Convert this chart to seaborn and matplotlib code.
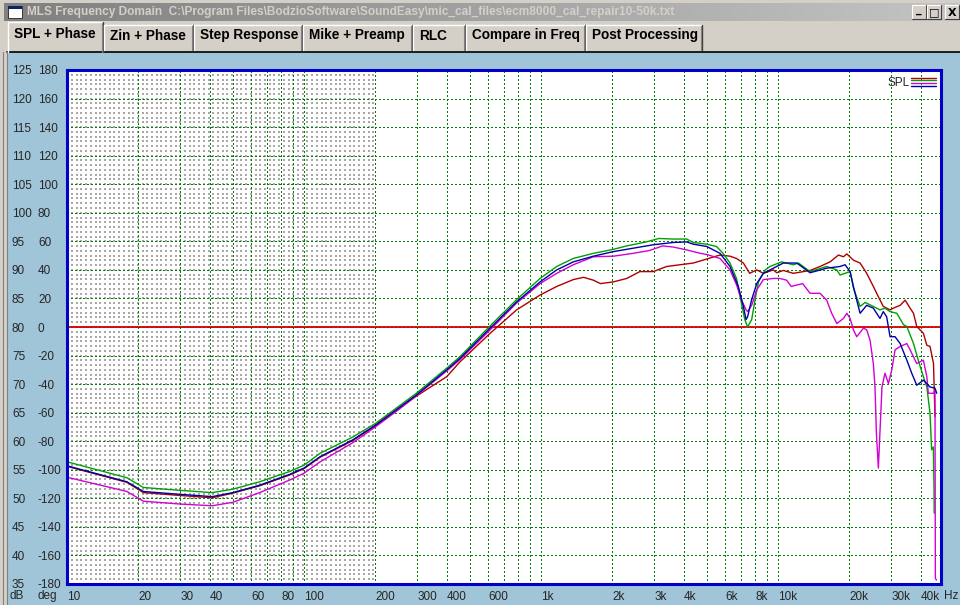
import numpy as np
import pandas as pd
import matplotlib
matplotlib.use('Agg')
import matplotlib.pyplot as plt
from matplotlib.patches import Rectangle
from matplotlib.lines import Line2D
from matplotlib.colors import LinearSegmentedColormap
import seaborn as sns

# measured SPL traces (Hz, dB)
red_freq = [10, 17.9, 21, 30, 41, 50, 65, 87, 100, 117, 160, 200, 298, 400, 455, 610, 789, 991,
            1165, 1368, 1510, 1663, 1780, 2020, 2300, 2610, 2977, 3390, 3860, 4390, 5000, 5690,
            6270, 6680, 7140, 7590, 8130, 8670, 9560, 9870, 10530, 11600, 13650, 15040, 16570,
            17990, 18880, 19510, 20800, 22190, 23660, 25240, 26500, 27800, 29690, 30660, 32750,
            34380, 36070, 37280, 38480, 41040, 42440, 43770, 45280, 45930]
red_spl = [55.6, 52.8, 51.0, 50.5, 50.1, 50.9, 52.2, 54.1, 55.2, 57.2, 60.1, 62.7, 67.9, 71.3, 73.9,
           78.9, 83.0, 85.6, 87.1, 88.3, 88.7, 88.2, 87.6, 87.9, 88.5, 89.7, 89.7, 90.6, 90.9, 91.2,
           91.9, 92.6, 92.4, 92.0, 91.2, 89.4, 90.0, 89.4, 90.0, 89.5, 89.9, 89.4, 89.9, 90.6, 91.4,
           92.6, 92.3, 92.8, 91.7, 91.2, 89.4, 87.1, 85.3, 83.6, 83.0, 83.3, 83.8, 84.7, 83.3, 82.4,
           80.1, 78.9, 76.8, 76.6, 73.6, 64.3]

green_freq = [10, 17.9, 21, 30, 41, 50, 65, 87, 100, 117, 160, 200, 298, 400, 455, 610, 789, 991,
              1165, 1368, 1663, 2020, 2300, 2780, 3140, 3614, 4115, 4390, 5000, 5500, 5860, 6270,
              6680, 7000, 7240, 7440, 7740, 8000, 8270, 8830, 9250, 10350, 11600, 12200, 13650,
              16040, 17700, 18270, 20140, 20800, 22190, 23300, 25240, 26920, 28260, 29690, 31700,
              33840, 34940, 37280, 39170, 41040, 42440, 43770, 44460, 45200, 45500, 45600]
green_spl = [56.4, 53.6, 51.9, 51.4, 51.0, 51.6, 52.9, 54.7, 55.8, 57.9, 60.7, 63.1, 68.4, 72.8,
             74.8, 80.2, 84.8, 88.5, 90.6, 92.0, 92.9, 93.6, 94.2, 94.9, 95.5, 95.4, 95.4, 94.8,
             94.5, 94.1, 92.9, 91.2, 88.5, 84.2, 81.3, 80.0, 81.3, 84.8, 87.9, 90.0, 90.6, 91.4,
             90.9, 91.2, 89.7, 90.6, 90.0, 89.1, 89.7, 86.8, 83.6, 84.3, 83.6, 83.0, 83.3, 82.7,
             82.4, 80.4, 80.1, 77.1, 74.0, 71.3, 69.5, 64.9, 58.5, 59.0, 52.0, 47.4]

magenta_freq = [10, 17.9, 21, 30, 41, 50, 65, 87, 100, 117, 160, 200, 250, 298, 400, 455, 610, 789,
                991, 1165, 1368, 1663, 2020, 2450, 2870, 3260, 3614, 4115, 4700, 5000, 5690, 6270,
                6680, 7000, 7330, 7440, 7740, 8130, 8670, 9560, 10180, 10860, 11370, 12700, 13650,
                15040, 16040, 16840, 17700, 18880, 19510, 20140, 20800, 21480, 22930, 23660, 24440,
                25240, 25650, 26000, 26500, 26900, 27450, 28260, 29220, 30190, 31170, 32750, 34940,
                36070, 38480, 39770, 41040, 42440, 43050, 45280, 45930, 46100, 46600]
magenta_spl = [53.7, 51.2, 49.5, 49.0, 48.7, 49.3, 51.0, 53.2, 54.4, 56.4, 59.7, 62.5, 65.5, 68.0,
               72.3, 74.3, 79.5, 84.2, 87.6, 89.4, 90.9, 92.3, 92.4, 92.9, 93.4, 94.2, 94.0, 93.5,
               92.9, 92.7, 92.0, 90.0, 87.4, 84.8, 83.0, 82.7, 83.8, 86.5, 88.3, 88.5, 88.5, 88.2,
               87.1, 87.6, 85.9, 85.9, 84.7, 82.4, 80.6, 81.5, 82.4, 81.5, 79.5, 78.3, 79.8, 79.5,
               77.7, 73.6, 69.5, 61.4, 55.3, 61.4, 69.5, 71.9, 70.1, 72.5, 76.0, 76.6, 77.1, 76.0,
               73.6, 73.9, 74.2, 71.3, 68.4, 68.4, 69.0, 36.0, 35.7]

blue_freq = [10, 17.9, 21, 30, 41, 50, 65, 87, 100, 117, 160, 200, 298, 400, 455, 610, 789, 991,
             1165, 1368, 1663, 2020, 2450, 2977, 3614, 4115, 4390, 5000, 5690, 6270, 6800, 7140,
             7330, 7440, 7740, 8130, 8670, 9870, 10530, 12000, 13650, 16040, 18270, 19180, 20140,
             20800, 21480, 22190, 23660, 25240, 26920, 27800, 28720, 29690, 31170, 32750, 34940,
             36650, 38480, 41040, 43770, 45930, 46700]
blue_spl = [55.7, 52.9, 51.2, 50.7, 50.3, 51.0, 52.3, 54.2, 55.3, 57.3, 60.2, 62.8, 68.1, 72.5,
            74.5, 79.8, 84.4, 87.9, 90.0, 91.4, 92.4, 93.2, 93.8, 94.4, 94.8, 94.9, 94.5, 94.1,
            92.9, 90.6, 87.1, 83.6, 81.3, 81.8, 84.8, 87.6, 89.4, 90.6, 91.2, 91.2, 89.5, 90.3,
            90.6, 90.9, 89.7, 87.1, 84.7, 82.4, 83.8, 83.3, 81.5, 82.7, 81.8, 78.3, 78.3, 77.1,
            74.2, 71.9, 69.8, 70.7, 69.5, 69.3, 68.4]

trace_names = ['red', 'green', 'magenta', 'blue']
trace_colors = {'red': '#b00000', 'green': '#00a000', 'magenta': '#d400d4', 'blue': '#0000a8'}
ref_db = 80

db_ticks = list(range(35, 130, 5))
deg_ticks = list(range(-180, 200, 20))
freq_grid = [m * 10 ** e for e in range(1, 5) for m in range(1, 10) if m * 10 ** e <= 40000]
freq_labels = {10: '10', 20: '20', 30: '30', 40: '40', 60: '60', 80: '80', 100: '100',
               200: '200', 300: '300', 400: '400', 600: '600', 1000: '1k', 2000: '2k',
               3000: '3k', 4000: '4k', 6000: '6k', 8000: '8k', 10000: '10k', 20000: '20k',
               30000: '30k', 40000: '40k'}

tabs = ['SPL + Phase', 'Zin + Phase', 'Step Response', 'Mike + Preamp', 'RLC',
        'Compare in Freq', 'Post Processing']
tab_edges = [8, 104, 194, 303, 413, 466, 586, 703]
title = ('MLS Frequency Domain  C:\\Program Files\\BodzioSoftware\\SoundEasy\\'
         'mic_cal_files\\ecm8000_cal_repair10-50k.txt')

sns.set_style('white')
plt.rcParams['font.family'] = ['Liberation Sans', 'DejaVu Sans']

W, H = 960, 605
fig = plt.figure(figsize=(W / 100, H / 100), dpi=100, facecolor='#d4d0c8')

# window chrome in pixel coordinates
px = fig.add_axes([0, 0, 1, 1])
px.axis('off')
grad = LinearSegmentedColormap.from_list('cap', ['#808080', '#c4c4c4'])
px.imshow(np.linspace(0, 1, 256)[None, :], cmap=grad, extent=(4, 960, 21, 3), aspect='auto')
px.set_xlim(0, W)
px.set_ylim(H, 0)
px.add_patch(Rectangle((8, 6), 14, 12, fc='white', ec='#202020', lw=0.6))
px.add_patch(Rectangle((8, 6), 14, 3, fc='#0a246a', ec='none'))
px.text(27, 12.5, title, color='#d4d0c8', fontsize=8.6, fontweight='bold', va='center', ha='left')
for bx, glyph in zip([912, 927, 945], ['_', '□', 'X']):
    px.add_patch(Rectangle((bx, 5), 14, 14, fc='#d4d0c8', ec='none'))
    px.plot([bx, bx, bx + 14], [19, 5, 5], color='white', lw=0.8)
    px.plot([bx, bx + 14, bx + 14], [19, 19, 5], color='#404040', lw=0.8)
    px.text(bx + 7, 12.5 if glyph != '_' else 10, glyph, fontsize=8, fontweight='bold',
            ha='center', va='center', color='black', family='DejaVu Sans')

px.add_patch(Rectangle((7, 52), W - 7, H - 52, fc='#a0c4d8', ec='none'))
px.plot([7, W], [52, 52], color='black', lw=1.2)
px.plot([7, 7], [52, H], color='#808080', lw=0.8)
px.plot([3, 3], [52, H], color='#808080', lw=0.8)

for i, name in enumerate(tabs):
    x0, x1 = tab_edges[i], tab_edges[i + 1] - 1
    top = 22 if i == 0 else 25
    bot = 52 if i == 0 else 50
    px.plot([x0, x0, x1], [bot, top, top], color='white', lw=1.0)
    px.plot([x1, x1], [top, bot], color='#404040', lw=1.0)
    px.plot([x1 - 1, x1 - 1], [top + 1, bot], color='#808080', lw=0.8)
    px.text(x0 + 6, 34 if i == 0 else 35.5, name, fontsize=9.8, fontweight='bold',
            ha='left', va='center', color='black')

px.text(10, 596, 'dB', fontsize=8.5, va='center', ha='left')
px.text(38, 596, 'deg', fontsize=8.5, va='center', ha='left')
px.text(944, 596, 'Hz', fontsize=8.5, va='center', ha='left')

# plot area
left, right, top, bottom = 67, 941, 70, 584
ax = fig.add_axes([left / W, 1 - bottom / H, (right - left) / W, (bottom - top) / H])
ax.set_facecolor('white')

frames = []
for name, f, s in [('red', red_freq, red_spl), ('green', green_freq, green_spl),
                   ('magenta', magenta_freq, magenta_spl), ('blue', blue_freq, blue_spl)]:
    frames.append(pd.DataFrame({'freq': f, 'spl': s, 'trace': name}))
df = pd.concat(frames, ignore_index=True)

ax.set_xscale('log')
ax.set_xlim(10, 48700)
ax.set_ylim(35, 125)

# stipple texture of the low-frequency zone
sx, sy = np.meshgrid(np.geomspace(10.5, 196, 65), np.arange(35 + 5 / 6, 125, 5 / 6))
ax.scatter(sx.ravel(), sy.ravel(), s=1.0, marker='s', color='#a8a8a8', linewidths=0,
           antialiased=False, zorder=0.3)

ax.axhline(ref_db, color='#d80000', lw=1.3, zorder=1.5)
sns.lineplot(data=df, x='freq', y='spl', hue='trace', hue_order=trace_names, palette=trace_colors,
             estimator=None, sort=False, legend=False, linewidth=1.0, ax=ax, zorder=2)
ax.set_xlim(10, 48700)
ax.set_ylim(35, 125)
ax.set_xlabel('')
ax.set_ylabel('')

ax.set_axisbelow(True)
ax.set_xticks(freq_grid, [freq_labels.get(v, '') for v in freq_grid], ha='left')
ax.xaxis.set_minor_locator(matplotlib.ticker.NullLocator())
ax.set_yticks(db_ticks, [str(v) for v in db_ticks], ha='left')
ax.grid(True, color='#008000', lw=0.75, linestyle=(0, (1, 2)), antialiased=False)
ax.tick_params(axis='x', length=0, pad=5, labelsize=8.5)
ax.tick_params(axis='y', length=0, pad=39.6, labelsize=8.5)
for sp in ax.spines.values():
    sp.set_color('#0000c8')
    sp.set_linewidth(2.2)

sec = ax.secondary_yaxis('left', functions=(lambda d: (d - ref_db) * 4, lambda p: p / 4 + ref_db))
sec.set_yticks(deg_ticks, [str(v) for v in deg_ticks], ha='left')
sec.tick_params(axis='y', length=0, pad=20.9, labelsize=8.5)
sec.spines['left'].set_visible(False)

# legend block
ax.text(887, 83, 'SPL', fontsize=8.5, ha='left', va='center', transform=px.transData)
for yy, name in zip([77.7, 80.3, 83.3, 86.3], trace_names):
    ax.add_line(Line2D([911, 936], [yy, yy], color=trace_colors[name], lw=1.0,
                       transform=px.transData))

fig.savefig('out.png', dpi=100, facecolor=fig.get_facecolor())
